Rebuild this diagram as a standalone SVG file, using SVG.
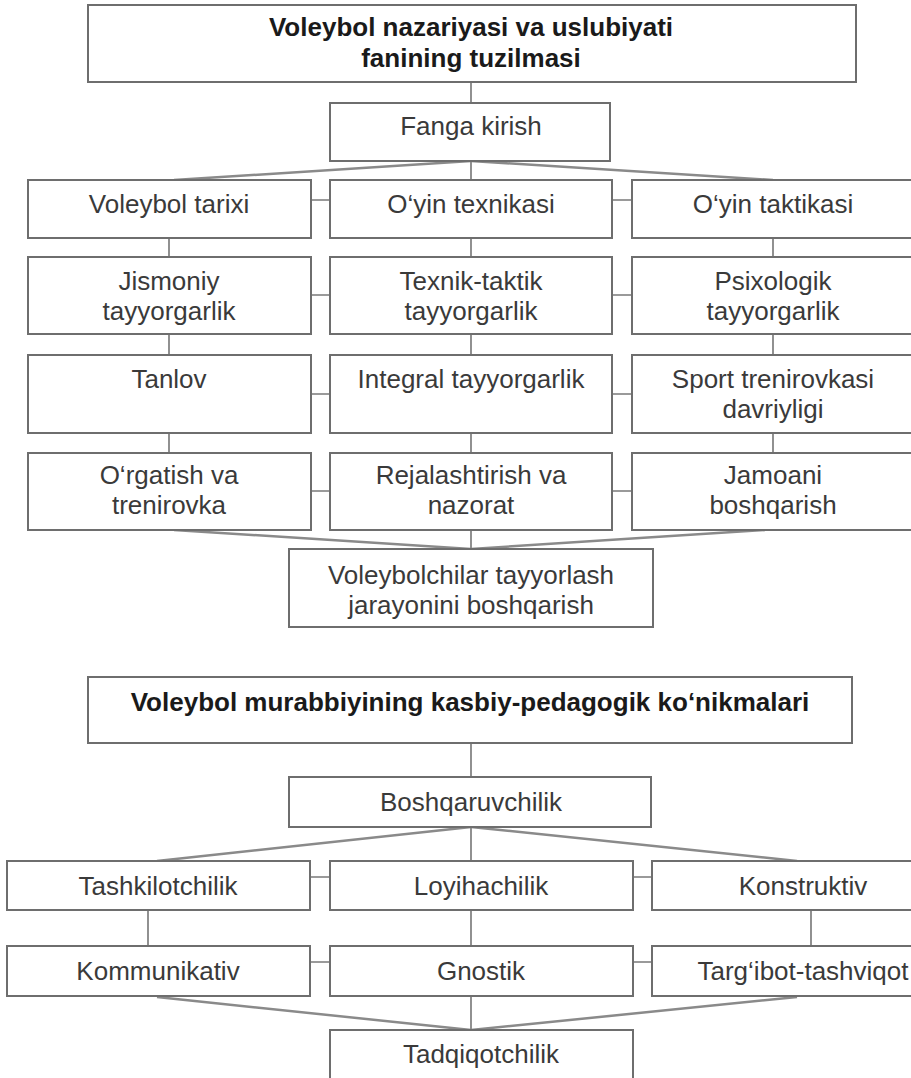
<svg xmlns="http://www.w3.org/2000/svg" width="911" height="1078" viewBox="0 0 911 1078">
<style>
.box{fill:#fff;stroke:#6e6e6e;stroke-width:2}
.t{font-family:"Liberation Sans",Arial,sans-serif;font-size:26px;fill:#3a3a3a;text-anchor:middle}
.b{font-family:"Liberation Sans",Arial,sans-serif;font-size:26px;font-weight:bold;fill:#1a1a1a;text-anchor:middle}
.v{stroke:#555;stroke-width:1.3;fill:none}
.s{stroke:#8a8a8a;stroke-width:2.5;fill:none}
.d{stroke:#9a9a9a;stroke-width:2;fill:none}
</style>
<rect width="911" height="1078" fill="#fff"/>
<g id="connectors">
<line class="v" x1="471" y1="82" x2="471" y2="103"/>
<line class="v" x1="471" y1="161" x2="471" y2="180"/>
<line class="s" x1="471" y1="161" x2="174" y2="180"/>
<line class="s" x1="471" y1="161" x2="773" y2="180"/>
<line class="v" x1="169" y1="238" x2="169" y2="257"/>
<line class="v" x1="471" y1="238" x2="471" y2="257"/>
<line class="v" x1="773" y1="238" x2="773" y2="257"/>
<line class="v" x1="169" y1="334" x2="169" y2="355"/>
<line class="v" x1="471" y1="334" x2="471" y2="355"/>
<line class="v" x1="773" y1="334" x2="773" y2="355"/>
<line class="v" x1="169" y1="433" x2="169" y2="453"/>
<line class="v" x1="471" y1="433" x2="471" y2="453"/>
<line class="v" x1="773" y1="433" x2="773" y2="453"/>
<line class="v" x1="471" y1="530" x2="471" y2="549"/>
<line class="s" x1="174" y1="530" x2="471" y2="549"/>
<line class="s" x1="765" y1="530" x2="471" y2="549"/>
<line class="d" x1="311" y1="200" x2="330" y2="200"/>
<line class="d" x1="612" y1="200" x2="632" y2="200"/>
<line class="d" x1="311" y1="295" x2="330" y2="295"/>
<line class="d" x1="612" y1="295" x2="632" y2="295"/>
<line class="d" x1="311" y1="394" x2="330" y2="394"/>
<line class="d" x1="612" y1="394" x2="632" y2="394"/>
<line class="d" x1="311" y1="491" x2="330" y2="491"/>
<line class="d" x1="612" y1="491" x2="632" y2="491"/>
<line class="v" x1="471" y1="743" x2="471" y2="777"/>
<line class="v" x1="471" y1="827" x2="471" y2="861"/>
<line class="s" x1="471" y1="827" x2="157" y2="861"/>
<line class="s" x1="471" y1="827" x2="797" y2="861"/>
<line class="v" x1="148" y1="910" x2="148" y2="946"/>
<line class="v" x1="471" y1="910" x2="471" y2="946"/>
<line class="v" x1="811" y1="910" x2="811" y2="946"/>
<line class="v" x1="471" y1="996" x2="471" y2="1030"/>
<line class="s" x1="157" y1="997" x2="471" y2="1030"/>
<line class="s" x1="797" y1="997" x2="471" y2="1030"/>
<line class="d" x1="310" y1="877" x2="330" y2="877"/>
<line class="d" x1="633" y1="877" x2="652" y2="877"/>
<line class="d" x1="310" y1="962" x2="330" y2="962"/>
<line class="d" x1="633" y1="962" x2="652" y2="962"/>
</g>
<g id="title1"><rect class="box" x="88" y="5" width="768" height="77"/><text class="b" x="471" y="36">Voleybol nazariyasi va uslubiyati</text><text class="b" x="471" y="67">fanining tuzilmasi</text></g>
<g id="fanga"><rect class="box" x="330" y="103" width="280" height="58"/><text class="t" x="471" y="135">Fanga kirish</text></g>
<g id="tarix"><rect class="box" x="28" y="180" width="283" height="58"/><text class="t" x="169" y="213">Voleybol tarixi</text></g>
<g id="texnika"><rect class="box" x="330" y="180" width="282" height="58"/><text class="t" x="471" y="213">O‘yin texnikasi</text></g>
<g id="taktika"><rect class="box" x="632" y="180" width="284" height="58"/><text class="t" x="773" y="213">O‘yin taktikasi</text></g>
<g id="jismoniy"><rect class="box" x="28" y="257" width="283" height="77"/><text class="t" x="169" y="290">Jismoniy</text><text class="t" x="169" y="320">tayyorgarlik</text></g>
<g id="texnik"><rect class="box" x="330" y="257" width="282" height="77"/><text class="t" x="471" y="290">Texnik-taktik</text><text class="t" x="471" y="320">tayyorgarlik</text></g>
<g id="psix"><rect class="box" x="632" y="257" width="284" height="77"/><text class="t" x="773" y="290">Psixologik</text><text class="t" x="773" y="320">tayyorgarlik</text></g>
<g id="tanlov"><rect class="box" x="28" y="355" width="283" height="78"/><text class="t" x="169" y="388">Tanlov</text></g>
<g id="integral"><rect class="box" x="330" y="355" width="282" height="78"/><text class="t" x="471" y="388">Integral tayyorgarlik</text></g>
<g id="sport"><rect class="box" x="632" y="355" width="284" height="78"/><text class="t" x="773" y="388">Sport trenirovkasi</text><text class="t" x="773" y="418">davriyligi</text></g>
<g id="orgatish"><rect class="box" x="28" y="453" width="283" height="77"/><text class="t" x="169" y="484">O‘rgatish va</text><text class="t" x="169" y="514">trenirovka</text></g>
<g id="reja"><rect class="box" x="330" y="453" width="282" height="77"/><text class="t" x="471" y="484">Rejalashtirish va</text><text class="t" x="471" y="514">nazorat</text></g>
<g id="jamoa"><rect class="box" x="632" y="453" width="284" height="77"/><text class="t" x="773" y="484">Jamoani</text><text class="t" x="773" y="514">boshqarish</text></g>
<g id="final"><rect class="box" x="289" y="549" width="364" height="78"/><text class="t" x="471" y="584">Voleybolchilar tayyorlash</text><text class="t" x="471" y="614">jarayonini boshqarish</text></g>
<g id="title2"><rect class="box" x="88" y="677" width="764" height="66"/><text class="b" x="470" y="711">Voleybol murabbiyining kasbiy-pedagogik ko‘nikmalari</text></g>
<g id="boshq"><rect class="box" x="289" y="777" width="362" height="50"/><text class="t" x="471" y="811">Boshqaruvchilik</text></g>
<g id="tashkil"><rect class="box" x="7" y="861" width="303" height="49"/><text class="t" x="158" y="895">Tashkilotchilik</text></g>
<g id="loyiha"><rect class="box" x="330" y="861" width="303" height="49"/><text class="t" x="481" y="895">Loyihachilik</text></g>
<g id="konstr"><rect class="box" x="652" y="861" width="303" height="49"/><text class="t" x="803" y="895">Konstruktiv</text></g>
<g id="kommun"><rect class="box" x="7" y="946" width="303" height="50"/><text class="t" x="158" y="980">Kommunikativ</text></g>
<g id="gnostik"><rect class="box" x="330" y="946" width="303" height="50"/><text class="t" x="481" y="980">Gnostik</text></g>
<g id="targ"><rect class="box" x="652" y="946" width="303" height="50"/><text class="t" x="803" y="980">Targ‘ibot-tashviqot</text></g>
<g id="tadqiq"><rect class="box" x="330" y="1030" width="303" height="60"/><text class="t" x="481" y="1063">Tadqiqotchilik</text></g>
</svg>
